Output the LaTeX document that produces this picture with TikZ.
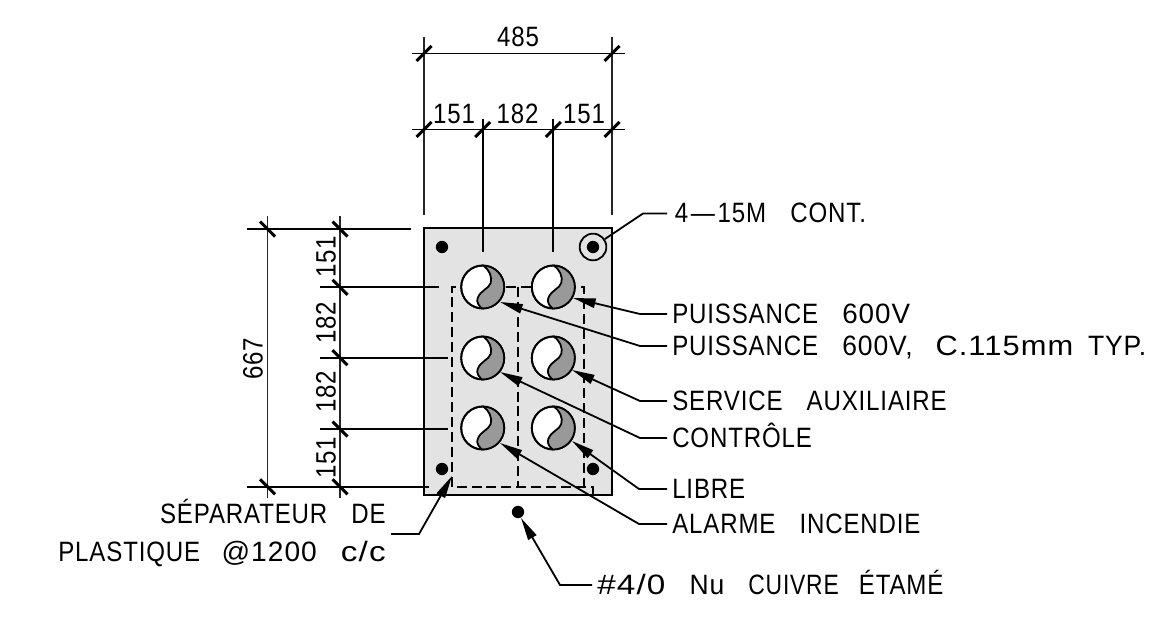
\documentclass[tikz,border=0pt]{standalone}
\usepackage{fontspec}
\setmainfont{Liberation Sans}
\newfontfamily\cad[FakeStretch=0.86,LetterSpace=3,WordSpace=3.2]{Liberation Sans}
\newcommand{\ls}[2]{\scalebox{#1}[1]{#2}}
\usetikzlibrary{arrows.meta}
\tikzset{
 x=0.75pt,y=-0.75pt,
 dimline/.style={line width=1.45pt,black},
 dimthin/.style={line width=1pt,black!85},
 dimthick/.style={line width=1.45pt,black},
 tick/.style={line width=2.2pt,black},
 leader/.style={line width=1.35pt,{Triangle[length=17pt,width=7pt]}-},
 plain/.style={line width=1.35pt},
 sep/.style={line width=1.35pt,dash pattern=on 7.5pt off 3.7pt},
 lbl/.style={inner sep=0pt,inner xsep=3.75pt,text height=14.25pt,text depth=0pt,font=\cad\fontsize{21}{23}\selectfont,text=black},
 dimtxt/.style={inner sep=0pt,text height=14.25pt,text depth=0pt,font=\cad\fontsize{21}{23}\selectfont,text=black},
 dot/.style={circle,fill=black,inner sep=0pt,minimum size=9.25pt},
}
\newcommand{\cable}[3]{%
 \node[circle,draw=black,fill=white,line width=1.35pt,minimum size=32.25pt,inner sep=0pt] (#1) at (#2,#3) {};
 \begin{scope}[shift={(#2,#3)}]
 \clip (0,0) circle[radius=21.5];
 \fill[black!40] (0.5,-21.5) .. controls (6,-18) and (10,-10) .. (8,-4) .. controls (6,2) and (-2,3) .. (-5,11) .. controls (-7,15) and (-3,20) .. (0,22) -- (25,22) -- (25,-22) -- cycle;
 \draw[line width=1.35pt] (0.5,-21.5) .. controls (6,-18) and (10,-10) .. (8,-4) .. controls (6,2) and (-2,3) .. (-5,11) .. controls (-7,15) and (-3,20) .. (0,22);
 \end{scope}
 \draw[line width=1.35pt] (#1.center) circle[radius=21.5];
}
\newcommand{\ttick}[2]{\draw[tick] (#1,#2)++(-7.5,7.5) -- ++(15,-15);}
\newcommand{\ltick}[2]{\draw[tick] (#1,#2)++(-7.5,-7.5) -- ++(15,15);}
\begin{document}
\begin{tikzpicture}
\useasboundingbox (0,0) rectangle (1176,623);
% panel
\node[draw=black,fill=black!11,line width=1.6pt,minimum width=141pt,minimum height=200pt,inner sep=0pt,outer sep=0pt] (panel) at (518,361.5) {};
% separators
\coordinate (sa) at (452,487);
\coordinate (sb) at (452,287);
\coordinate (sc) at (584,287);
\coordinate (sd) at (584,487);
\coordinate (se) at (593,487);
\coordinate (sf) at (593,495);
\coordinate (sg) at (518,287);
\coordinate (sh) at (518,487);
\draw[sep] (sf) -- (se) -- (sa) -- (sb) -- (sc) -- (sd);
\draw[sep] (sg) -- (sh);
% cables
\cable{c1}{482.7}{287}
\cable{c2}{553.3}{287}
\cable{c3}{482.7}{358}
\cable{c4}{553.3}{358}
\cable{c5}{482.7}{428}
\cable{c6}{553.3}{428}
% bars
\node[dot] (b1) at (442,247) {};
\node[dot] (b2) at (593,247) {};
\node[circle,draw=black,line width=1.35pt,minimum size=20pt,inner sep=0pt] (ring) at (593,247) {};
\node[dot] (b3) at (442,469) {};
\node[dot] (b4) at (593,469) {};
\node[dot] (wire) at (518,512) {};
% dimension lines, top
\coordinate (t1) at (424,37);\coordinate (t1b) at (424,215);
\coordinate (t2) at (612,37);\coordinate (t2b) at (612,215);
\coordinate (t3) at (482.7,119);\coordinate (t3b) at (482.7,252);
\coordinate (t4) at (553.3,119);\coordinate (t4b) at (553.3,252);
\draw[dimthin] (t1) -- (t1b);
\draw[dimthin] (t2) -- (t2b);
\draw[dimthick] (t3) -- (t3b);
\draw[dimthick] (t4) -- (t4b);
\coordinate (h1a) at (412,53.5);\coordinate (h1b) at (625,53.5);
\coordinate (h2a) at (412,129.5);\coordinate (h2b) at (625,129.5);
\draw[dimline] (h1a) -- (h1b);
\draw[dimline] (h2a) -- (h2b);
\ttick{424}{53.5}\ttick{612}{53.5}
\ttick{424}{129.5}\ttick{482.7}{129.5}\ttick{553.3}{129.5}\ttick{612}{129.5}
\node[dimtxt] (d485) at (518,37) {485};
\node[dimtxt] (d151a) at (454,114.5) {151};
\node[dimtxt] (d182a) at (517.5,114.5) {182};
\node[dimtxt] (d151b) at (584,114.5) {151};
% dimension lines, left
\coordinate (v1a) at (267.5,216);\coordinate (v1b) at (267.5,498);
\coordinate (v2a) at (340,216);\coordinate (v2b) at (340,498);
\draw[dimthin] (v1a) -- (v1b);
\draw[dimthin] (v2a) -- (v2b);
\coordinate (l1a) at (247,229);\coordinate (l1b) at (411,229);
\coordinate (l2a) at (320,287.3);\coordinate (l2b) at (439,287.3);
\coordinate (l3a) at (320,357.7);\coordinate (l3b) at (448,357.7);
\coordinate (l4a) at (320,429);\coordinate (l4b) at (448,429);
\coordinate (l5a) at (247,486.8);\coordinate (l5b) at (429,486.8);
\draw[dimline] (l1a) -- (l1b);
\draw[dimline] (l2a) -- (l2b);
\draw[dimline] (l3a) -- (l3b);
\draw[dimline] (l4a) -- (l4b);
\draw[dimline] (l5a) -- (l5b);
\ltick{267.5}{229}\ltick{340}{229}\ltick{340}{287.3}\ltick{340}{357.7}\ltick{340}{429}\ltick{267.5}{486.8}\ltick{340}{486.8}
\node[dimtxt,rotate=90] (d667) at (253,359) {667};
\node[dimtxt,rotate=90] (d151c) at (326,257) {151};
\node[dimtxt,rotate=90] (d182b) at (326,323) {182};
\node[dimtxt,rotate=90] (d182c) at (326,392) {182};
\node[dimtxt,rotate=90] (d151d) at (326,458) {151};
% labels
\node[lbl,anchor=west] (n0) at (667,213.5) {\kern2pt 4\kern2pt—\kern2pt15M CONT.};
\node[lbl,anchor=west] (n1) at (667,314) {PUISSANCE \ls{1.155}{600V}};
\node[lbl,anchor=west] (n2) at (667,346) {PUISSANCE \ls{1.1}{600V,} \kern-1pt\ls{1.28}{C.115mm} \kern-7pt\ls{1.1}{TYP.}};
\node[lbl,anchor=west] (n3) at (667,401) {SERVICE AUXILIAIRE};
\node[lbl,anchor=west] (n4) at (667,438) {CONTRÔLE};
\node[lbl,anchor=west] (n5) at (667,489) {LIBRE};
\node[lbl,anchor=west] (n6) at (667,524) {ALARME INCENDIE};
\node[lbl,anchor=west] (n7) at (592,585) {\ls{1.38}{\#4/0} \ls{1.1}{Nu} \ls{0.95}{CUIVRE} \kern-3pt ÉTAMÉ};
\node[lbl,anchor=east] (n8) at (391,514) {SÉPARATEUR DE};
\node[lbl,anchor=east] (n9) at (391,552) {PLASTIQUE \kern-2pt\ls{1.17}{@1200} \ls{1.38}{c/c}};
% leaders
\coordinate (e0) at (643,213.5);
\draw[plain] (ring) -- (e0) -- (n0.west);
\coordinate (t1p) at (573,298);\coordinate (e1) at (640,314);
\coordinate (t2p) at (500,302);\coordinate (e2) at (640,346);
\coordinate (t3p) at (572,370);\coordinate (e3) at (640,401);
\coordinate (t4p) at (500,372);\coordinate (e4) at (640,438);
\coordinate (t5p) at (572,441);\coordinate (e5) at (639,489);
\coordinate (t6p) at (500,443);\coordinate (e6) at (639,524);
\coordinate (t7p) at (452,476);\coordinate (e7) at (419,534);
\coordinate (t8p) at (521,518);\coordinate (e8) at (560,585);
\draw[leader] (t1p) -- (e1) -- (n1.west);
\draw[leader] (t2p) -- (e2) -- (n2.west);
\draw[leader] (t3p) -- (e3) -- (n3.west);
\draw[leader] (t4p) -- (e4) -- (n4.west);
\draw[leader] (t5p) -- (e5) -- (n5.west);
\draw[leader] (t6p) -- (e6) -- (n6.west);
\draw[leader] (t7p) -- (e7) -- (n8.east |- e7);
\draw[leader] (t8p) -- (e8) -- (n7.west);
\end{tikzpicture}
\end{document}
